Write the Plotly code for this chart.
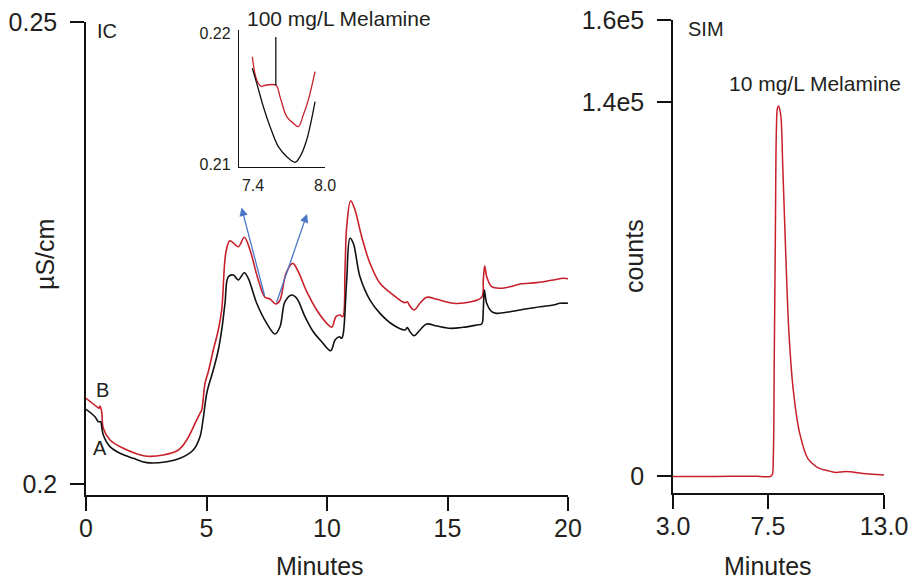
import plotly.graph_objects as go

W, H = 913, 579

# ---- IC chromatogram (µS/cm vs minutes) ----
ic_b_min = [0.0, 0.444, 0.539, 0.581, 0.651, 0.718, 0.996, 1.548, 2.448, 3.207, 3.830, 4.178,
            4.593, 4.730, 4.801, 4.938, 5.075, 5.282, 5.490, 5.631, 5.809, 5.975, 6.320, 6.568,
            6.805, 7.149, 7.427, 7.635, 7.884, 8.050, 8.299, 8.577, 8.809, 9.158, 9.573, 9.988,
            10.195, 10.373, 10.539, 10.651, 10.747, 10.817, 10.983, 11.162, 11.440, 11.784,
            12.199, 12.751, 13.237, 13.332, 13.415, 13.610, 13.859, 14.137, 14.552, 15.241,
            15.934, 16.419, 16.485, 16.543, 16.627, 16.834, 17.178, 17.730, 18.008, 18.701,
            19.390, 19.805, 20.0]
ic_b_us = [0.20927, 0.20837, 0.20819, 0.20844, 0.20782, 0.20603, 0.20476, 0.20386, 0.20303,
           0.20314, 0.20368, 0.20476, 0.20693, 0.20765, 0.20801, 0.21090, 0.21215, 0.21450,
           0.21667, 0.21883, 0.22514, 0.22633, 0.22568, 0.22670, 0.22532, 0.22208, 0.22021,
           0.22002, 0.21948, 0.21991, 0.22280, 0.22388, 0.22298, 0.22081, 0.21883, 0.21739,
           0.21696, 0.21811, 0.21829, 0.21811, 0.22316, 0.22785, 0.23066, 0.22965, 0.22676,
           0.22388, 0.22172, 0.22045, 0.21962, 0.21973, 0.21937, 0.21883, 0.21956, 0.22021,
           0.21999, 0.21956, 0.21970, 0.22021, 0.22208, 0.22359, 0.22244, 0.22135, 0.22118,
           0.22143, 0.22165, 0.22179, 0.22208, 0.22226, 0.22222]

ic_a_min = [0.0, 0.373, 0.510, 0.610, 0.651, 0.718, 0.996, 1.411, 1.963, 2.519, 3.349, 3.900,
            4.452, 4.730, 4.855, 5.021, 5.282, 5.490, 5.631, 5.768, 5.905, 6.112, 6.320, 6.568,
            6.734, 7.083, 7.498, 7.842, 8.050, 8.257, 8.535, 8.743, 9.087, 9.432, 9.780,
            10.154, 10.332, 10.510, 10.610, 10.676, 10.817, 10.954, 11.091, 11.369, 11.784,
            12.199, 12.751, 13.237, 13.332, 13.444, 13.610, 13.859, 14.137, 14.552, 15.104,
            15.656, 16.212, 16.419, 16.485, 16.527, 16.627, 16.834, 17.041, 17.593, 18.008,
            18.838, 19.390, 19.668, 20.0]
ic_a_us = [0.20808, 0.20728, 0.20674, 0.20674, 0.20620, 0.20530, 0.20404, 0.20332, 0.20278,
           0.20231, 0.20241, 0.20278, 0.20368, 0.20512, 0.20693, 0.20996, 0.21234, 0.21450,
           0.21667, 0.21956, 0.22244, 0.22262, 0.22208, 0.22287, 0.22226, 0.21956, 0.21739,
           0.21623, 0.21702, 0.21973, 0.22045, 0.22010, 0.21811, 0.21648, 0.21540, 0.21443,
           0.21558, 0.21594, 0.21577, 0.21631, 0.22208, 0.22659, 0.22605, 0.22244, 0.21991,
           0.21847, 0.21721, 0.21667, 0.21692, 0.21648, 0.21605, 0.21667, 0.21732, 0.21710,
           0.21685, 0.21696, 0.21721, 0.21732, 0.21883, 0.22100, 0.21956, 0.21865, 0.21847,
           0.21865, 0.21883, 0.21919, 0.21937, 0.21956, 0.21956]

# ---- inset: 7.4-8.0 min enlarged ----
inset_b_min = [7.394, 7.431, 7.464, 7.514, 7.592, 7.625, 7.681, 7.736, 7.778, 7.819, 7.861, 7.917]
inset_b_us = [0.21819, 0.21641, 0.21595, 0.21603, 0.21601, 0.21514, 0.21361, 0.21311, 0.21285,
              0.21374, 0.21489, 0.21705]
inset_a_min = [7.394, 7.431, 7.486, 7.542, 7.611, 7.681, 7.750, 7.792, 7.847, 7.917]
inset_a_us = [0.21731, 0.21616, 0.21437, 0.21285, 0.21132, 0.21056, 0.21013, 0.21056, 0.21183,
              0.21476]
marker_min = [7.59, 7.59]
marker_us = [0.2197, 0.2160]

# ---- SIM trace (counts vs minutes) ----
sim_min = [3.0, 5.0, 7.0, 7.6, 7.7, 7.75, 7.8, 7.85, 7.9, 7.95, 8.0, 8.1, 8.2, 8.35, 8.5, 8.7,
           9.0, 9.4, 9.8, 10.0, 10.3, 10.7, 11.2, 12.0, 13.0]
sim_counts = [-250, -200, -150, -250, 370, 6000, 44900, 88300, 129500, 137700, 138500, 135500,
              116400, 81600, 52800, 32200, 16100, 6360, 3370, 2620, 2060, 1310, 1680, 940, 370]

# ---- tick labels ----
ic_xticks = [0, 5, 10, 15, 20]
ic_yticks = [0.2, 0.25]
ic_ylabels = ["0.2", "0.25"]
inset_xticks = [7.4, 8.0]
inset_xlabels = ["7.4", "8.0"]
inset_yticks = [0.21, 0.22]
inset_ylabels = ["0.21", "0.22"]
sim_xticks = [3.0, 7.5, 13.0]
sim_xlabels = ["3.0", "7.5", "13.0"]
sim_ylabels = ["0", "1.4e5", "1.6e5"]

RED = "#c8202a"
BLACK = "#111111"
BLUE = "#4a76c8"
TXT = "#231f20"
FONT = "Liberation Sans, Arial, sans-serif"


def px_x(p):
    return p / W


def px_y(p):
    return 1 - p / H


sim_yrange = [-6400, 170700]

fig = go.Figure()
line_w = 1.6
fig.add_trace(go.Scatter(x=ic_b_min, y=ic_b_us, mode="lines", line=dict(color=RED, width=line_w),
                         xaxis="x", yaxis="y", line_shape="spline"))
fig.add_trace(go.Scatter(x=ic_a_min, y=ic_a_us, mode="lines", line=dict(color=BLACK, width=line_w),
                         xaxis="x", yaxis="y", line_shape="spline"))
fig.add_trace(go.Scatter(x=inset_b_min, y=inset_b_us, mode="lines", line=dict(color=RED, width=1.3),
                         xaxis="x3", yaxis="y3", line_shape="spline"))
fig.add_trace(go.Scatter(x=inset_a_min, y=inset_a_us, mode="lines", line=dict(color=BLACK, width=1.3),
                         xaxis="x3", yaxis="y3", line_shape="spline"))
fig.add_trace(go.Scatter(x=marker_min, y=marker_us, mode="lines", line=dict(color=BLACK, width=1.3),
                         xaxis="x3", yaxis="y3"))
fig.add_trace(go.Scatter(x=sim_min, y=sim_counts, mode="lines", line=dict(color=RED, width=1.5),
                         xaxis="x2", yaxis="y2", line_shape="spline"))

tickfont = dict(family=FONT, size=25, color=TXT)
axis_common = dict(showline=True, linecolor=BLACK, linewidth=1.5, showgrid=False, zeroline=False,
                   automargin=False, ticks="outside", ticklen=14, tickwidth=1.5, tickcolor=BLACK,
                   tickfont=tickfont)
inset_common = dict(showline=True, linecolor=BLACK, linewidth=1.3, showgrid=False, zeroline=False,
                    automargin=False, ticks="", ticklabelstandoff=4,
                    tickfont=dict(family=FONT, size=16, color=TXT))

fig.update_layout(
    template="none",
    width=W, height=H, margin=dict(l=0, r=0, t=0, b=0, pad=0),
    paper_bgcolor="white", plot_bgcolor="rgba(0,0,0,0)", showlegend=False,
    xaxis=dict(domain=[px_x(86), px_x(568)], range=[0, 20], anchor="y",
               tickvals=ic_xticks, ticklabelstandoff=-4, **axis_common),
    yaxis=dict(domain=[px_y(495), px_y(22)], range=[0.19881, 0.25], anchor="x",
               tickvals=ic_yticks, ticktext=ic_ylabels, ticklabelstandoff=8, **axis_common),
    xaxis2=dict(domain=[px_x(673), px_x(884)], range=[3, 13], anchor="y2",
                tickvals=sim_xticks, ticktext=sim_xlabels, ticklabelstandoff=-4, **axis_common),
    yaxis2=dict(domain=[px_y(493), px_y(20)], range=sim_yrange, anchor="x2",
                tickvals=[0, 140000, sim_yrange[1]], ticktext=sim_ylabels, ticklabelstandoff=8,
                **axis_common),
    xaxis3=dict(domain=[px_x(239), px_x(325)], range=[7.283, 8.0], anchor="y3",
                tickvals=inset_xticks, ticktext=inset_xlabels, **inset_common),
    yaxis3=dict(domain=[px_y(167), px_y(30)], range=[0.20977, 0.22023], anchor="x3",
                tickvals=inset_yticks, ticktext=inset_ylabels, **inset_common),
)


def label(text, x, y, size, angle=0):
    fig.add_annotation(text=text, x=px_x(x), y=px_y(y), xref="paper", yref="paper",
                       showarrow=False, textangle=angle, xanchor="center", yanchor="middle",
                       font=dict(family=FONT, size=size, color=TXT))


label("Minutes", 320, 566, 25)
label("Minutes", 768, 566, 25)
label("µS/cm", 45, 255, 25, angle=-90)
label("counts", 634, 256, 25, angle=-90)
label("IC", 107, 31, 20)
label("SIM", 706, 29, 20)
label("B", 102, 390, 20)
label("A", 100, 448, 20)
label("100 mg/L Melamine", 339, 19, 21)
label("10 mg/L Melamine", 815, 84, 21)

# arrows pointing from the 7.4-8.0 min region up to the inset
for tail, tip in [((7.427, 0.22021), (6.452, 0.22992)), ((7.884, 0.21948), (9.170, 0.22922))]:
    fig.add_annotation(x=tip[0], y=tip[1], ax=tail[0], ay=tail[1], xref="x", yref="y",
                       axref="x", ayref="y", text="", showarrow=True, arrowhead=2,
                       arrowsize=1.3, arrowwidth=1.3, arrowcolor=BLUE, standoff=0)

fig.write_html("out.html")
